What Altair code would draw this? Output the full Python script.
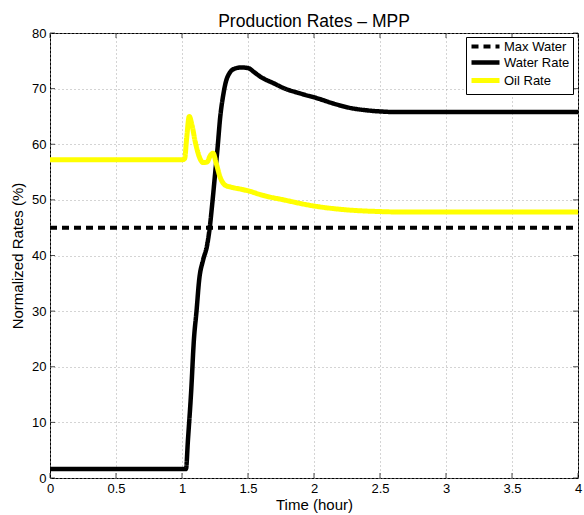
import altair as alt
import pandas as pd

# Time axis (hours) and normalized rates (%)
water_t = [0.0, 1.03, 1.045, 1.07, 1.09, 1.11, 1.13, 1.16, 1.19, 1.21, 1.23, 1.25,
           1.27, 1.29, 1.31, 1.33, 1.36, 1.40, 1.45, 1.50, 1.55, 1.59, 1.70, 1.77,
           1.90, 2.02, 2.15, 2.28, 2.40, 2.50, 2.60, 3.00, 4.00]
water_v = [1.6, 1.6, 6.8, 15.8, 24.8, 30.0, 35.6, 39.2, 41.8, 45.0, 49.5, 54.5,
           59.5, 65.0, 68.5, 71.0, 72.8, 73.6, 73.8, 73.7, 72.9, 72.2, 70.9, 70.1,
           69.1, 68.3, 67.3, 66.5, 66.1, 65.9, 65.8, 65.8, 65.8]

oil_t = [0.0, 1.00, 1.02, 1.035, 1.055, 1.075, 1.10, 1.13, 1.16, 1.19, 1.215, 1.235,
         1.26, 1.29, 1.33, 1.37, 1.45, 1.52, 1.60, 1.77, 2.00, 2.25, 2.50, 2.70, 4.00]
oil_v = [57.2, 57.2, 57.4, 61.0, 65.0, 63.5, 60.5, 57.8, 56.7, 56.8, 58.0, 58.4,
         56.5, 54.0, 52.6, 52.3, 51.9, 51.5, 50.9, 50.0, 48.9, 48.2, 47.9, 47.8, 47.8]

max_t = [0.0, 4.0]
max_v = [45.0, 45.0]

series_names = ["Max Water", "Water Rate", "Oil Rate"]
series_colors = ["#000000", "#000000", "#ffff00"]
series_dash = [[7, 5], [1, 0], [1, 0]]
series_width = [4, 5, 5]

x_ticks = [0, 0.5, 1, 1.5, 2, 2.5, 3, 3.5, 4]
y_ticks = [0, 10, 20, 30, 40, 50, 60, 70, 80]

W, H = 528, 445
FONT = "Liberation Sans"

rows = []
for name, ts, vs in [("Max Water", max_t, max_v),
                     ("Water Rate", water_t, water_v),
                     ("Oil Rate", oil_t, oil_v)]:
    for i, (t, v) in enumerate(zip(ts, vs)):
        rows.append({"series": name, "t": t, "v": v, "i": i})
df = pd.DataFrame(rows)

x_scale = alt.Scale(domain=[0, 4], nice=False, zero=False)
y_scale = alt.Scale(domain=[0, 80], nice=False)

# a long flat swatch drawn from a small symbol size keeps the rows tight
legend = alt.Legend(title=None, orient="none", legendX=416, legendY=4,
                    symbolType="M-3.5,0H3.5", symbolSize=64, symbolStrokeWidth=4,
                    symbolOffset=10, labelOffset=12,
                    labelFontSize=13, labelFont=FONT, rowPadding=-2, padding=3)

lines = alt.Chart(df).mark_line(strokeCap="butt", strokeJoin="round",
                                interpolate="monotone").encode(
    x=alt.X("t:Q", scale=x_scale,
            axis=alt.Axis(values=x_ticks, title="Time (hour)", format="~g")),
    y=alt.Y("v:Q", scale=y_scale,
            axis=alt.Axis(values=y_ticks, title="Normalized Rates (%)")),
    color=alt.Color("series:N",
                    scale=alt.Scale(domain=series_names, range=series_colors),
                    sort=series_names, legend=legend),
    strokeDash=alt.StrokeDash("series:N",
                              scale=alt.Scale(domain=series_names, range=series_dash),
                              sort=series_names, legend=legend),
    strokeWidth=alt.StrokeWidth("series:N",
                                scale=alt.Scale(domain=series_names, range=series_width),
                                sort=series_names, legend=None),
    order="i:Q",
)

xt = pd.DataFrame({"t": x_ticks})
yt = pd.DataFrame({"v": y_ticks})

tick_style = dict(color="black", thickness=1, size=5)
bottom_ticks = alt.Chart(xt).mark_tick(orient="vertical", **tick_style).encode(
    x=alt.X("t:Q", scale=x_scale), y=alt.value(H - 2.5))
top_ticks = alt.Chart(xt).mark_tick(orient="vertical", **tick_style).encode(
    x=alt.X("t:Q", scale=x_scale), y=alt.value(2.5))
left_ticks = alt.Chart(yt).mark_tick(orient="horizontal", **tick_style).encode(
    y=alt.Y("v:Q", scale=y_scale), x=alt.value(2.5))
right_ticks = alt.Chart(yt).mark_tick(orient="horizontal", **tick_style).encode(
    y=alt.Y("v:Q", scale=y_scale), x=alt.value(W - 2.5))

chart = alt.layer(lines, bottom_ticks, top_ticks, left_ticks, right_ticks).properties(
    width=W,
    height=H,
    title=alt.TitleParams("Production Rates \u2013 MPP", fontSize=17.5, font=FONT,
                          fontWeight="normal", offset=2, dy=5),
    autosize=alt.AutoSizeParams(type="none"),
    padding={"left": 50, "top": 33, "right": 6, "bottom": 37},
    background="white",
).configure_view(
    stroke="black", strokeWidth=1
).configure_axis(
    domain=False,
    ticks=False,
    labelFont=FONT,
    labelFontSize=13,
    labelColor="black",
    titleFont=FONT,
    titleFontSize=15,
    titleFontWeight="normal",
    titleColor="black",
    grid=True,
    gridColor="#a8a8a8",
    gridDash=[1, 3],
    gridWidth=1,
).configure_axisX(
    labelPadding=4, titlePadding=2, labelFlush=False
).configure_axisY(
    labelPadding=4, titlePadding=6, labelFlush=False
).configure_legend(
    fillColor="white",
    strokeColor="black",
    labelColor="black",
    cornerRadius=0,
)

chart.save("out.html", embed_options={"renderer": "svg", "actions": False})
